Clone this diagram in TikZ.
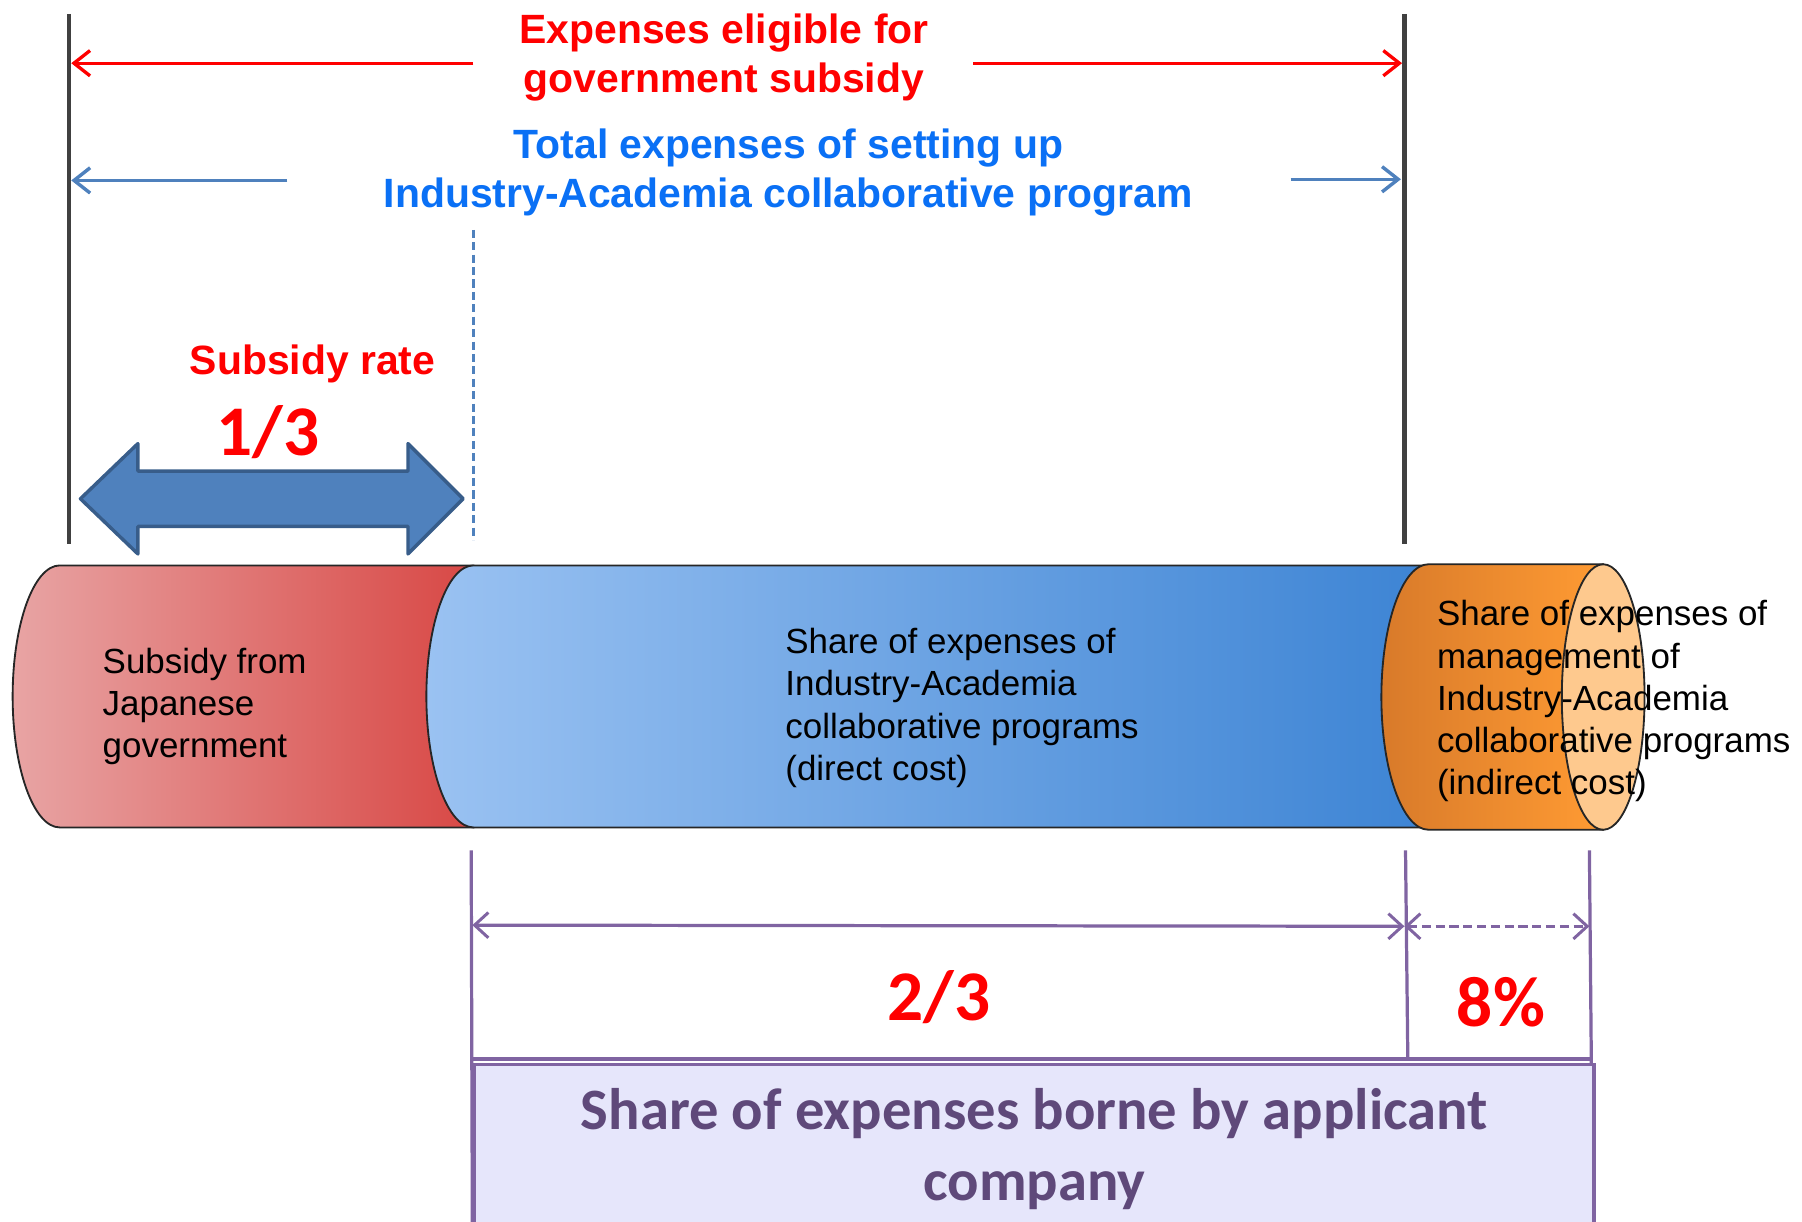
\documentclass[tikz,border=0pt]{standalone}
\usepackage{fontspec}
\setmainfont{Liberation Sans}
\newfontfamily\carl{Carlito}
\usetikzlibrary{arrows.meta}
\definecolor{redT}{HTML}{FF0000}
\definecolor{blueT}{HTML}{0A70F5}
\definecolor{steel}{HTML}{4F81BD}
\definecolor{steelD}{HTML}{385D8A}
\definecolor{darkL}{HTML}{404040}
\definecolor{purp}{HTML}{8064A2}
\definecolor{purpT}{HTML}{5F497A}
\definecolor{boxF}{HTML}{E6E6FB}
\definecolor{rL}{HTML}{E8A4A4}
\definecolor{rR}{HTML}{D84845}
\definecolor{bL}{HTML}{9AC2F2}
\definecolor{bR}{HTML}{3D84D4}
\definecolor{oL}{HTML}{D87A2A}
\definecolor{oR}{HTML}{FF9B33}
\definecolor{oEnd}{HTML}{FEC98E}
\begin{document}
\begin{tikzpicture}[x=0.5pt,y=-0.5pt,
  titlefont/.style={font=\bfseries\fontsize{17.8}{21.5}\selectfont, align=center, inner sep=0pt},
  bodyfont/.style={font=\fontsize{15.2}{18.3}\selectfont, align=left, inner sep=0pt, text=black},
  bigfrac/.style={font=\carl\bfseries\fontsize{31}{36}\selectfont, text=redT, inner sep=0pt},
  limitline/.style={draw=darkL, line width=2pt},
  redarrow/.style={draw=redT, line width=1.45pt, -{Straight Barb[length=7pt,width=11pt,line width=1.45pt]}},
  bluearrow/.style={draw=steel, line width=1.5pt, -{Straight Barb[length=7pt,width=11pt,line width=1.5pt]}},
  dimline/.style={draw=purp, line width=1.4pt},
  dimarrow/.style={draw=purp, line width=1.4pt, {Straight Barb[length=6pt,width=11pt,line width=1.3pt]}-{Straight Barb[length=6pt,width=11pt,line width=1.3pt]}},
  cyl/.style={draw=black!85, line width=0.8pt}
]
\useasboundingbox (0,0) rectangle (1568,1063);

% limit lines
\coordinate (LT) at (60,12);  \coordinate (LB) at (60,473);
\coordinate (RT) at (1222,12); \coordinate (RB) at (1222,473);
\draw[limitline] (LT) -- (LB);
\draw[limitline] (RT) -- (RB);

% titles
\node[titlefont, text=redT] (elig) at (630,50) {Expenses eligible for\\government subsidy};
\node[titlefont, text=blueT] (total) at (686,150) {Total expenses of setting up\\Industry-Academia collaborative program};

\coordinate (e1s) at (412,55); \coordinate (e1e) at (62,55);
\coordinate (e2s) at (847,55); \coordinate (e2e) at (1220,55);
\draw[redarrow] (e1s) -- (e1e);
\draw[redarrow] (e2s) -- (e2e);
\coordinate (t1s) at (250,157); \coordinate (t1e) at (62,157);
\coordinate (t2s) at (1123,156); \coordinate (t2e) at (1219,156);
\draw[bluearrow] (t1s) -- (t1e);
\draw[bluearrow] (t2s) -- (t2e);

% dashed separator
\coordinate (dT) at (412,200); \coordinate (dB) at (412,470);
\draw[draw=steel, line width=1.7pt, dash pattern=on 3.5pt off 1.9pt] (dT) -- (dB);

% subsidy rate
\node[font=\bfseries\fontsize{17.8}{21.5}\selectfont, text=redT, inner sep=0pt] (rate) at (272,317) {Subsidy rate};
\node[bigfrac] (third) at (233,376) {1/3};

% block double arrow
\draw[fill=steel, draw=steelD, line width=1.5pt, line join=round]
  (70,434) -- (120,386) -- (120,410) -- (355,410) -- (355,386) -- (403,434)
  -- (355,482) -- (355,458) -- (120,458) -- (120,482) -- cycle;

% cylinder
\path[cyl, left color=rL, right color=rR]
  (52,492) .. controls (29.4,492) and (11,543) .. (11,606)
  .. controls (11,669) and (29.4,720) .. (52,720) -- (412,720) -- (412,492) -- cycle;
\path[cyl, left color=bL, right color=bR]
  (412,492) .. controls (389.4,492) and (371,543) .. (371,606)
  .. controls (371,669) and (389.4,720) .. (412,720) -- (1243,720) -- (1243,492) -- cycle;
\path[cyl, left color=oL, right color=oR]
  (1243,491) .. controls (1220.4,491) and (1202,542.7) .. (1202,606.5)
  .. controls (1202,670.3) and (1220.4,722) .. (1243,722) -- (1395,722) -- (1395,491) -- cycle;
\draw[cyl, fill=oEnd] (1395,606.5) ellipse [x radius=36, y radius=115.5];

\node[bodyfont, anchor=west] (subs) at (89,615) {Subsidy from\\Japanese\\government};
\node[bodyfont, anchor=west] (direct) at (683,616) {Share of expenses of\\Industry-Academia\\collaborative programs\\(direct cost)};
\node[bodyfont, anchor=west] (indirect) at (1250,610) {Share of expenses of\\management of\\Industry-Academia\\collaborative programs\\(indirect cost)};

% dimension lines
\coordinate (v1t) at (410,740); \coordinate (v1b) at (411,1070);
\coordinate (v2t) at (1223,740); \coordinate (v2b) at (1225,922);
\coordinate (v3t) at (1383,740); \coordinate (v3b) at (1386,1070);
\draw[dimline] (v1t) -- (v1b);
\draw[dimline] (v2t) -- (v2b);
\draw[dimline] (v3t) -- (v3b);
\coordinate (p1) at (411,805); \coordinate (p2) at (1222,806); \coordinate (p3) at (1383,806);
\draw[dimarrow] (p1) -- (p2);
\draw[dimarrow, dash pattern=on 4pt off 2pt] (p2) -- (p3);

\node[bigfrac] (twothird) at (817,868) {2/3};
\node[bigfrac] (pct) at (1306,872) {8\%};

% bottom box
\draw[draw=purp, line width=1.4pt, fill=boxF] (413,926) rectangle (1387,1080);
\draw[dimline] (410,921.5) -- (1386,921.5);
\node[font=\carl\bfseries\fontsize{25.5}{31}\selectfont, text=purpT, align=center, inner sep=0pt] (borne) at (900,1000) {Share of expenses borne by applicant\\company};
\end{tikzpicture}
\end{document}
